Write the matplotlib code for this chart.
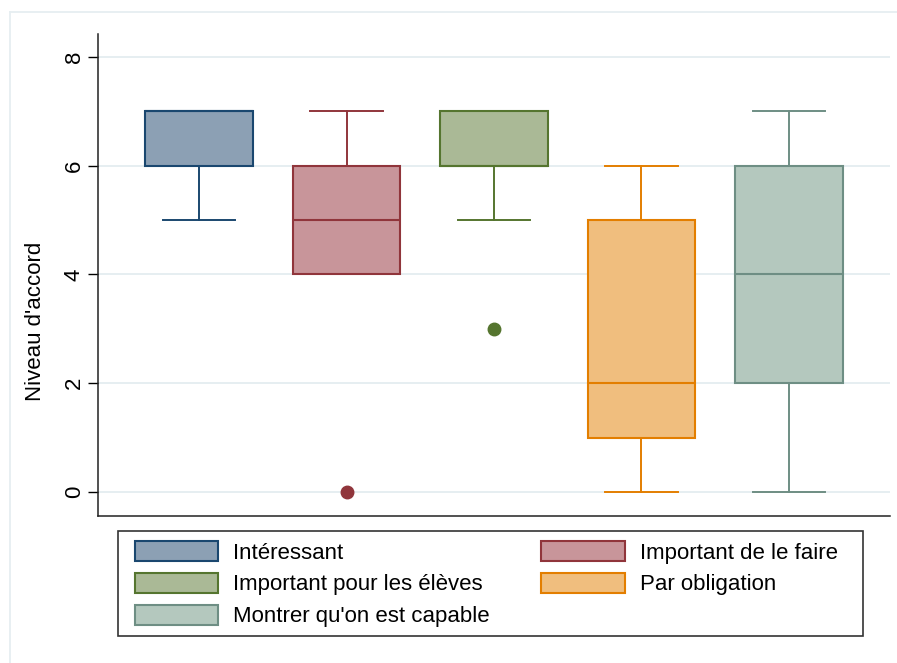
import matplotlib
matplotlib.use("Agg")
import matplotlib.pyplot as plt
from matplotlib.patches import Patch, Rectangle
from matplotlib.lines import Line2D

plt.rcParams['font.family'] = ['Liberation Sans', 'DejaVu Sans']

# Summary statistics for each motivation item (scale 0-7)
labels = ["Intéressant", "Important de le faire", "Important pour les élèves",
          "Par obligation", "Montrer qu'on est capable"]
whisker_low = [5, 4, 5, 0, 0]
q1 = [6, 4, 6, 1, 2]
median = [7, 5, 6, 2, 4]
q3 = [7, 6, 7, 5, 6]
whisker_high = [7, 7, 7, 6, 7]
outliers = [[], [0], [3], [], []]

fill_colors = ["#8CA0B4", "#C8959A", "#AAB996", "#F0BE7E", "#B4C8BE"]
edge_colors = ["#1A476F", "#90353B", "#55752F", "#E37E00", "#6E8E84"]

y_ticks = [0, 2, 4, 6, 8]
y_label = "Niveau d'accord"

W, H = 897, 663
fig = plt.figure(figsize=(W / 100, H / 100), dpi=100)
fig.patch.set_facecolor("white")

# light outer region border (left and top)
grid_col = "#E6EEF1"
fig.add_artist(Line2D([10 / W, 10 / W], [0, 1 - 12 / H], transform=fig.transFigure,
                      color=grid_col, lw=1.3))
fig.add_artist(Line2D([10 / W, 1], [1 - 12 / H, 1 - 12 / H], transform=fig.transFigure,
                      color=grid_col, lw=1.3))

ax_l, ax_r, ax_t, ax_b = 98, 890, 34, 516
ax = fig.add_axes([ax_l / W, 1 - ax_b / H, (ax_r - ax_l) / W, (ax_b - ax_t) / H])

positions = list(range(1, len(labels) + 1))
stats = []
for i in range(len(labels)):
    stats.append(dict(whislo=whisker_low[i], q1=q1[i], med=median[i], q3=q3[i],
                      whishi=whisker_high[i], fliers=outliers[i], label=labels[i]))

for i, st in enumerate(stats):
    ec = edge_colors[i]
    ax.bxp([st], positions=[positions[i]], widths=0.73, capwidths=0.49,
           patch_artist=True, showfliers=True,
           boxprops=dict(facecolor=fill_colors[i], edgecolor=ec, linewidth=1.5),
           medianprops=dict(color=ec, linewidth=1.5),
           whiskerprops=dict(color=ec, linewidth=1.4),
           capprops=dict(color=ec, linewidth=1.4),
           flierprops=dict(marker="o", markerfacecolor=ec, markeredgecolor=ec,
                           markersize=9),
           zorder=3)

ax.set_xlim(0.315, 5.685)
ax.set_ylim(-0.44, 8.42)
ax.set_yticks(y_ticks)
ax.set_yticklabels([str(t) for t in y_ticks], rotation=90, va="center", fontsize=16)
ax.set_xticks([])
ax.yaxis.grid(True, color=grid_col, linewidth=1.4)
ax.set_axisbelow(True)
ax.tick_params(axis="y", length=7, width=1.0, pad=2.5, colors="black")
for s in ["top", "right"]:
    ax.spines[s].set_visible(False)
for s in ["left", "bottom"]:
    ax.spines[s].set_linewidth(1.1)
    ax.spines[s].set_color("#222222")
ax.set_ylabel(y_label, fontsize=16)
ax.yaxis.set_label_coords(-52 / (ax_r - ax_l), (ax_b - 321) / (ax_b - ax_t))

# legend frame
fig.add_artist(Rectangle((118 / W, 1 - 636 / H), (863 - 118) / W, (636 - 531) / H,
                         transform=fig.transFigure, facecolor="white",
                         edgecolor="#333333", linewidth=1.2, zorder=1))

# legend entries: two columns, row-wise order
handles = [Patch(facecolor=fill_colors[i], edgecolor=edge_colors[i], linewidth=1.5,
                 label=labels[i]) for i in range(len(labels))]
order = [0, 2, 4, 1, 3]
leg = fig.legend([handles[i] for i in order], [labels[i] for i in order],
                 ncol=2, loc="upper left",
                 bbox_to_anchor=(135 / W, 1 - 541 / H),
                 fontsize=16, frameon=False,
                 handlelength=3.75, handleheight=1.0, handletextpad=0.68,
                 labelspacing=0.42, borderpad=0.0, borderaxespad=0.0,
                 columnspacing=2.31)
leg.set_zorder(2)

fig.savefig("out.png", dpi=100)
